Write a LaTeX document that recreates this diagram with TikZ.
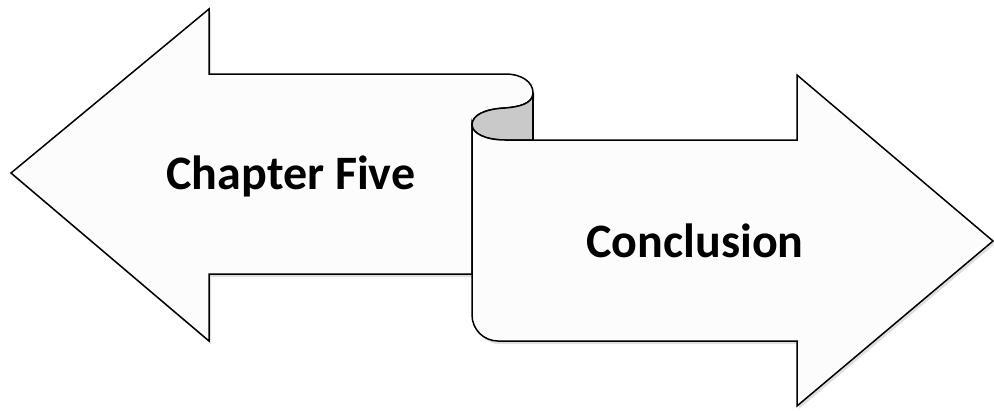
\documentclass[tikz,border=0pt]{standalone}
\usepackage{fontspec}
\setsansfont{Carlito}
\usetikzlibrary{shadows}
\definecolor{ribfill}{HTML}{FCFCFC}
\definecolor{curlgrey}{HTML}{C9C9C9}
\tikzset{
  rib_n/.style = {draw=black, line width=1.5pt, fill=ribfill, line join=miter},
  rib_s/.style = {rib_n, drop shadow={opacity=0.25, shadow xshift=2pt, shadow yshift=-3pt}},
  rib_g/.style = {draw=black, line width=1.5pt, fill=curlgrey},
  lbl/.style = {align=center, inner sep=0pt, text centered, font=\sffamily\bfseries\fontsize{48}{52}\selectfont}
}
\begin{document}
\begin{tikzpicture}[x=1pt, y=-1pt]
\useasboundingbox (0,0) rectangle (994,410);
% left arrow with the curl on top
\draw [rib_s] (11,173) -- (209,9) -- (209,74) -- (505,74)
	.. controls (522,74) and (533,82) .. (533,93)
	.. controls (533,104) and (518,107) .. (505,108)
	.. controls (485,109) and (472,115) .. (472,125)
	-- (472,274) -- (209,274) -- (209,341) -- cycle;
% inside of the curl
\draw [rib_g] (533,93)
	.. controls (533,104) and (518,107) .. (505,108)
	.. controls (485,109) and (472,115) .. (472,125)
	.. controls (472,133) and (485,140) .. (505,140)
	-- (533,140) -- cycle;
% right arrow
\draw [rib_s] (472,125)
	.. controls (472,133) and (485,140) .. (505,140)
	-- (797,140) -- (797,75) -- (993,241) -- (797,406) -- (797,341)
	[rounded corners=26pt] -- (472,341) [sharp corners] -- cycle;
\draw [rib_n, fill=none] (533,93) -- (533,140);
\node [lbl] (five) at (291,176) {Chapter Five};
\node [lbl] (concl) at (695,241) {Conclusion};
\end{tikzpicture}
\end{document}
